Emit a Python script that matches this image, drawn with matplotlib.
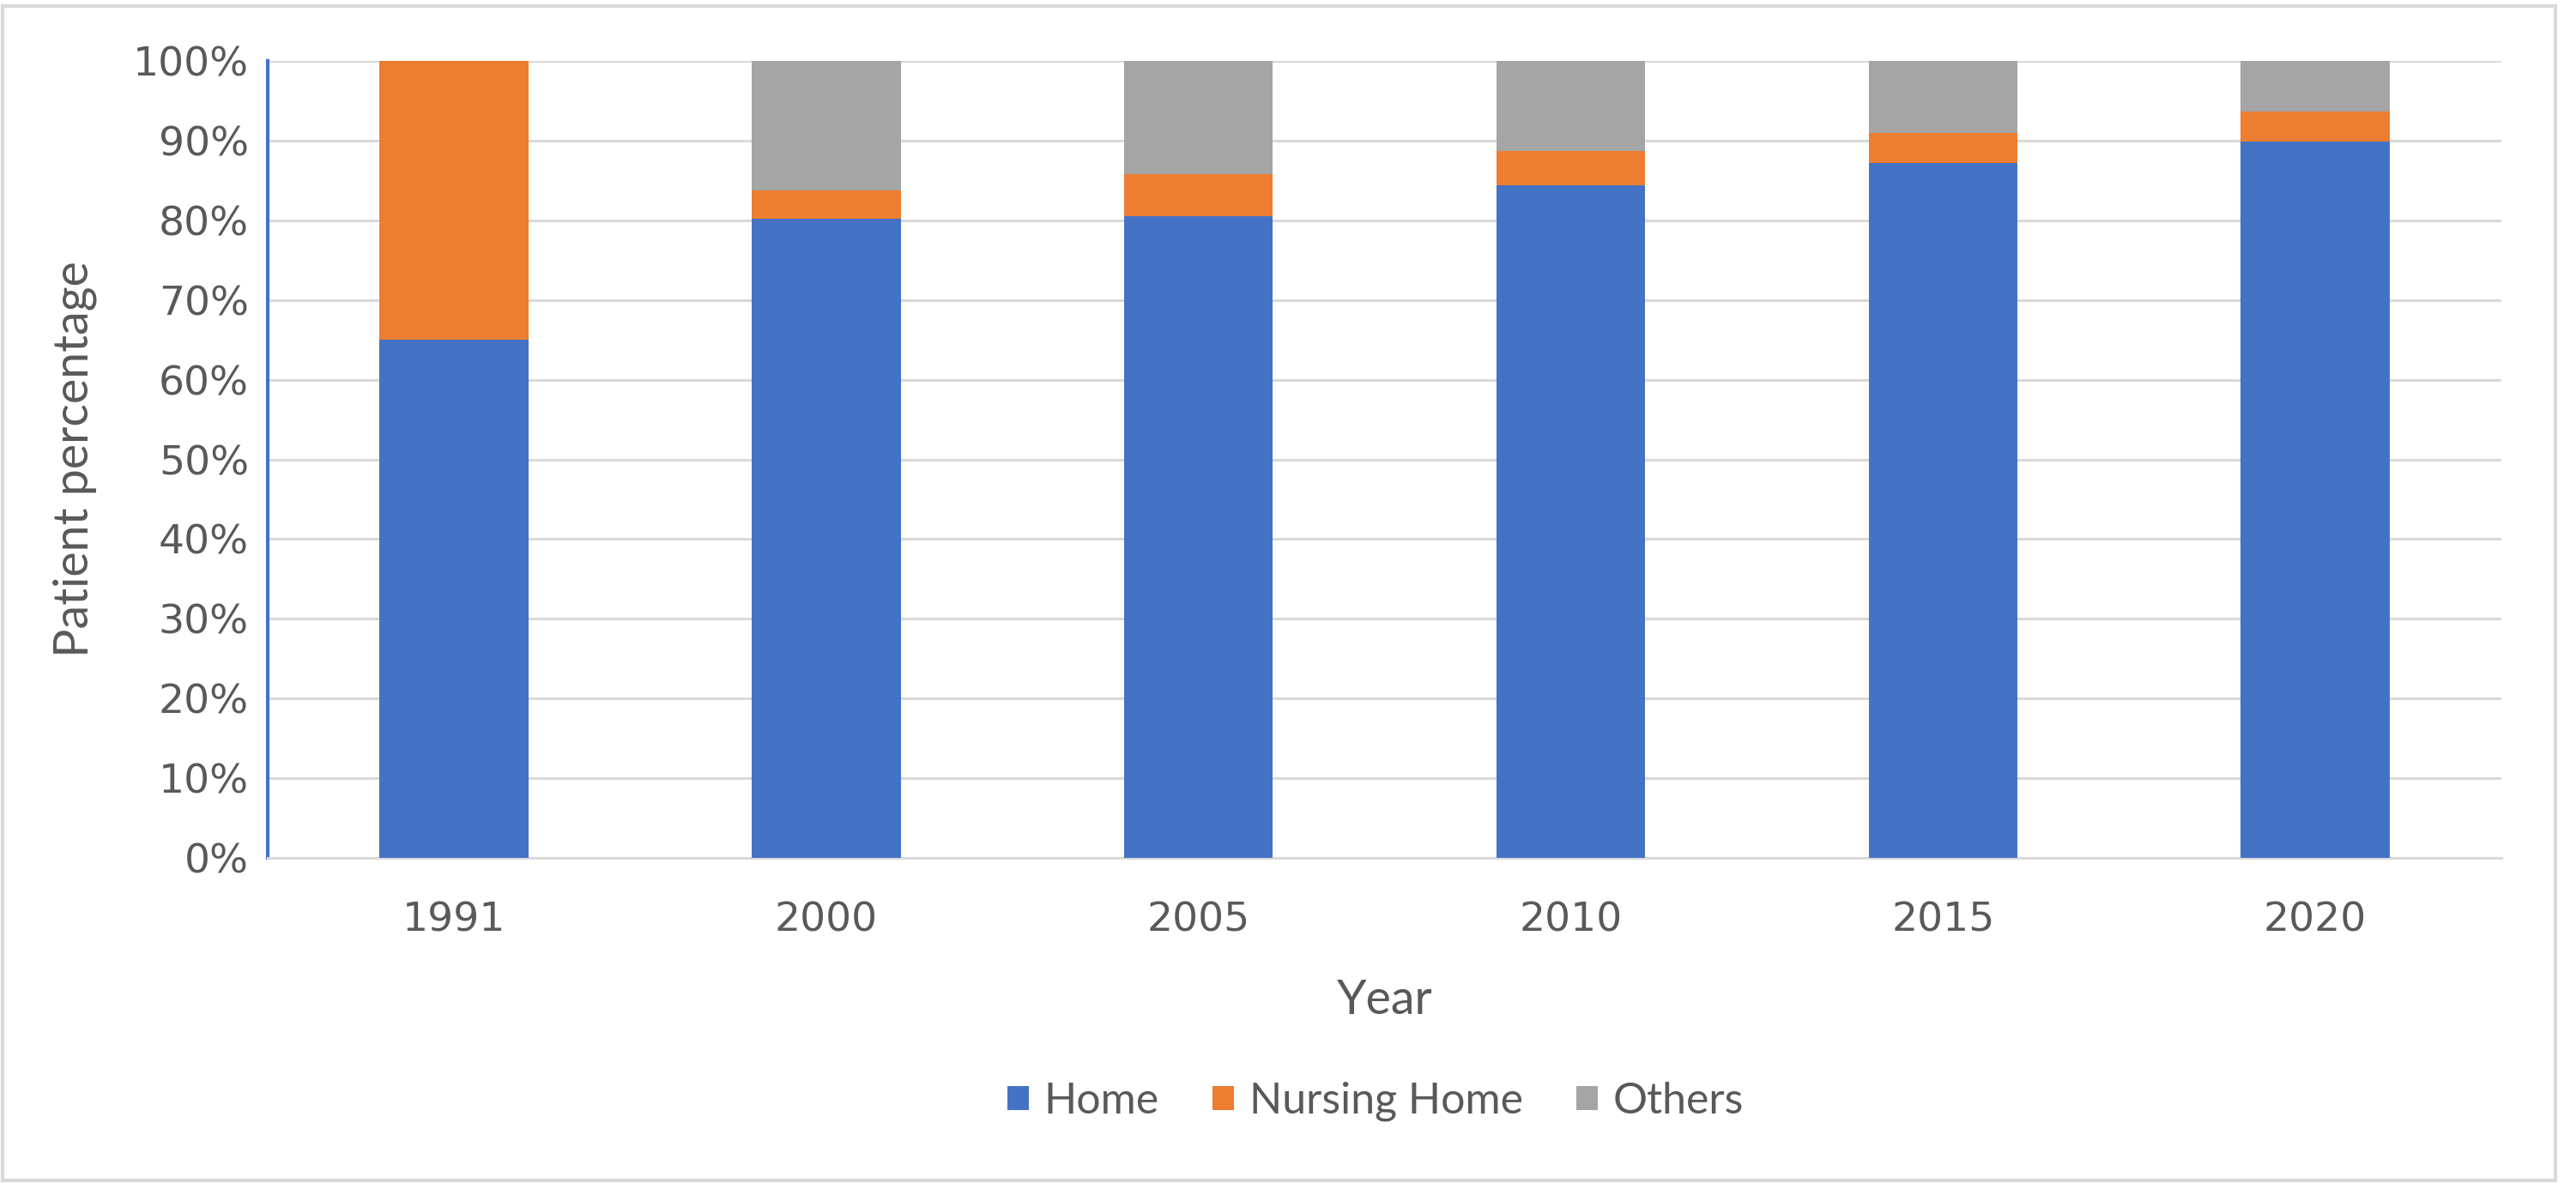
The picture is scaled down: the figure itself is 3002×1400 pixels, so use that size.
import matplotlib.pyplot as plt
from matplotlib.patches import Rectangle
from matplotlib.ticker import PercentFormatter
import numpy as np

years = ['1991', '2000', '2005', '2010', '2015', '2020']
home = [65.0, 80.2, 80.5, 84.4, 87.2, 89.9]
nursing = [35.0, 3.5, 5.3, 4.3, 3.8, 3.8]
others = [0.0, 16.3, 14.2, 11.3, 9.0, 6.3]

series = [('Home', home, '#4472C4'),
          ('Nursing Home', nursing, '#ED7D31'),
          ('Others', others, '#A5A5A5')]

text_col = '#595959'
label_font = ['Lato', 'DejaVu Sans']
tick_font = ['DejaVu Sans']

fig = plt.figure(figsize=(30.02, 14), dpi=100)
ax = fig.add_axes([0.104, 0.2857, 0.867, 0.6636])

x = np.arange(len(years))
bottom = np.zeros(len(years))
for name, vals, col in series:
    ax.bar(x, vals, 0.4, bottom=bottom, color=col, label=name, zorder=3)
    bottom += np.array(vals)

ax.set_xlim(-0.5, len(years) - 0.5)
ax.set_ylim(0, 100)
ax.set_yticks(np.arange(0, 101, 10))
ax.yaxis.set_major_formatter(PercentFormatter(decimals=0))
ax.set_xticks(x)
ax.set_xticklabels(years)
ax.grid(axis='y', color='#D9D9D9', linewidth=2.2, zorder=0)
ax.tick_params(length=0, labelcolor=text_col, labelsize=34)
ax.tick_params(axis='x', pad=36)
ax.tick_params(axis='y', pad=16)
for lab in ax.get_xticklabels() + ax.get_yticklabels():
    lab.set_family(tick_font)

for s in ['top', 'right']:
    ax.spines[s].set_visible(False)
ax.spines['left'].set_color('#4472C4')
ax.spines['left'].set_linewidth(3)
ax.spines['bottom'].set_color('#D9D9D9')
ax.spines['bottom'].set_linewidth(2.2)

ax.set_xlabel('Year', fontsize=40, color=text_col, family=label_font, labelpad=33)
ax.set_ylabel('Patient percentage', fontsize=40, color=text_col, family=label_font, labelpad=30)

leg = fig.legend(loc='center', bbox_to_anchor=(0.534, 0.083), ncol=3, frameon=False,
                 prop={'family': label_font, 'size': 36}, labelcolor=text_col,
                 handlelength=0.5, handleheight=0.5, handletextpad=0.35, columnspacing=1.25)

fig.patches.append(Rectangle((0.001, 0.017), 0.991, 0.978, transform=fig.transFigure,
                             fill=False, edgecolor='#D9D9D9', linewidth=3))

fig.savefig('out.png', dpi=100)
